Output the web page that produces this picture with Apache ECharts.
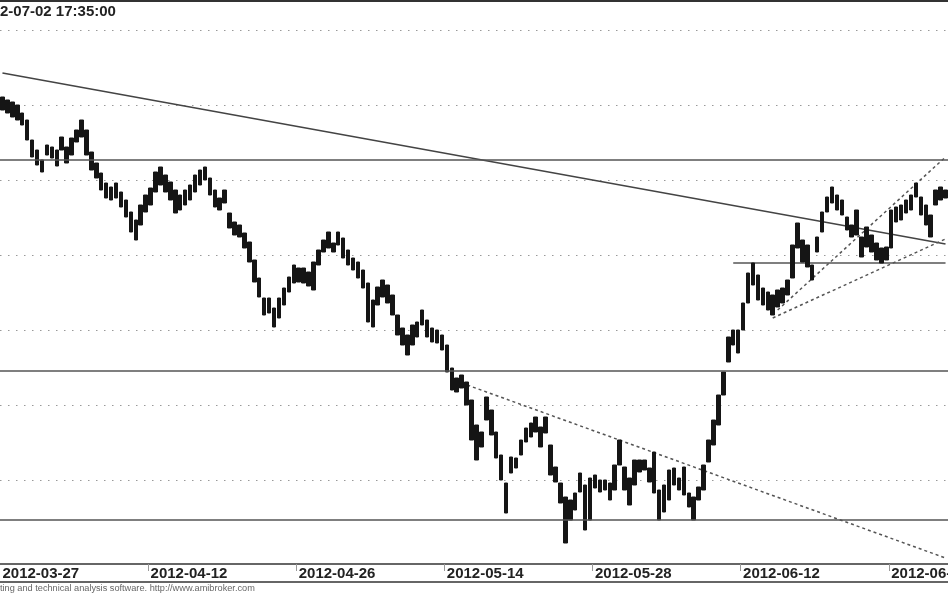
<!DOCTYPE html>
<html><head><meta charset="utf-8">
<script src="https://cdn.jsdelivr.net/npm/echarts@6/dist/echarts.min.js"></script>
<style>html,body{margin:0;padding:0;background:#fff}#c{width:948px;height:593px}</style>
</head><body><div id="c"></div>
<script>
// Trading days (Warsaw session), three bars per day
const tradingDays = ['2012-03-27','2012-03-28','2012-03-29','2012-03-30',
 '2012-04-02','2012-04-03','2012-04-04','2012-04-05','2012-04-10','2012-04-11',
 '2012-04-12','2012-04-13','2012-04-16','2012-04-17','2012-04-18','2012-04-19','2012-04-20','2012-04-23','2012-04-24','2012-04-25',
 '2012-04-26','2012-04-27','2012-04-30','2012-05-02','2012-05-04','2012-05-07','2012-05-08','2012-05-09','2012-05-10','2012-05-11',
 '2012-05-14','2012-05-15','2012-05-16','2012-05-17','2012-05-18','2012-05-21','2012-05-22','2012-05-23','2012-05-24','2012-05-25',
 '2012-05-28','2012-05-29','2012-05-30','2012-05-31','2012-06-01','2012-06-04','2012-06-05','2012-06-06','2012-06-08','2012-06-11',
 '2012-06-12','2012-06-13','2012-06-14','2012-06-15','2012-06-18','2012-06-19','2012-06-20','2012-06-21','2012-06-22','2012-06-25',
 '2012-06-26','2012-06-27','2012-06-28','2012-06-29'];
const sessionSlots = ['09:00','12:00','15:00'];

const barHighs = [2333,2330,2328,2325,2317,2310,2290,2280,2270,2285,
 2283,2280,2293,2283,2292,2300,2310,2300,2278,2267,
 2257,2247,2243,2247,2238,2230,2218,2210,2225,2235,
 2242,2258,2263,2255,2248,2240,2235,2240,2245,2255,
 2260,2263,2252,2240,2232,2240,2217,2208,2205,2197,
 2188,2170,2152,2132,2132,2122,2132,2142,2153,2165,
 2162,2162,2158,2168,2180,2190,2198,2187,2198,2192,
 2180,2172,2168,2160,2147,2130,2143,2150,2145,2135,
 2115,2102,2095,2105,2108,2120,2110,2102,2100,2095,
 2085,2062,2052,2055,2048,2030,2005,1998,2033,2020,
 1998,1975,1947,1973,1972,1990,2002,2007,2013,2003,
 2013,1985,1963,1947,1933,1930,1937,1957,1945,1952,
 1955,1950,1950,1947,1965,1990,1963,1952,1970,1970,
 1970,1962,1978,1940,1945,1960,1962,1952,1963,1937,
 1933,1943,1965,1990,2010,2035,2058,2093,2100,2100,
 2127,2157,2167,2155,2142,2138,2135,2140,2142,2150,
 2185,2207,2190,2185,2165,2193,2218,2233,2243,2235,
 2230,2213,2205,2220,2193,2203,2195,2187,2182,2183,
 2220,2223,2225,2230,2235,2247,2233,2225,2215,2240,
 2243,2240];
const barLows = [2320,2317,2313,2310,2305,2290,2273,2265,2258,2275,
 2272,2264,2280,2267,2275,2288,2293,2275,2260,2252,
 2240,2232,2230,2232,2223,2213,2198,2190,2205,2218,
 2225,2238,2245,2238,2230,2217,2220,2225,2230,2238,
 2245,2250,2235,2223,2220,2227,2202,2195,2193,2182,
 2168,2148,2133,2115,2117,2103,2112,2125,2138,2147,
 2148,2147,2144,2140,2165,2178,2182,2178,2185,2172,
 2165,2160,2152,2142,2108,2103,2125,2133,2127,2115,
 2095,2085,2075,2085,2093,2105,2093,2088,2087,2080,
 2058,2040,2038,2042,2025,1990,1970,1983,2010,1995,
 1972,1950,1917,1957,1962,1975,1988,1993,1998,1983,
 1997,1955,1948,1927,1887,1910,1920,1938,1900,1910,
 1942,1938,1940,1930,1940,1965,1940,1925,1945,1958,
 1960,1948,1937,1910,1918,1930,1945,1940,1935,1923,
 1910,1930,1940,1968,1985,2005,2035,2068,2085,2077,
 2100,2127,2145,2130,2125,2120,2115,2123,2127,2135,
 2152,2182,2168,2163,2150,2178,2198,2218,2227,2220,
 2215,2200,2193,2195,2173,2183,2178,2170,2167,2170,
 2182,2208,2210,2217,2220,2233,2215,2205,2193,2225,
 2230,2232];

// Horizontal support / resistance levels
const levelLines = [2270, 2059, 1910];
const partialLevel = [[148, 2167], [191, 2167]];
// Trend lines: [bar index, price]
const trendMain = [[0, 2357], [191, 2186]];
const trendDown = [[93, 2047], [191, 1872]];
const trendUpSteep = [[157, 2120], [191, 2273]];
const trendUpFlat = [[156, 2112], [191, 2191]];

const categories = [];
tradingDays.forEach(d => sessionSlots.forEach(s => categories.push(d + ' ' + s)));
const ohlc = barLows.map((lo, i) => [lo, barHighs[i], lo, barHighs[i]]);

const chart = echarts.init(document.getElementById('c'), null, {renderer: 'canvas'});
const dashed = {color: '#555', width: 1.5, type: [3, 3]};
chart.setOption({
  animation: false,
  backgroundColor: '#fff',
  grid: {left: 0, right: 0, top: 3, bottom: 38, containLabel: false, outerBoundsMode: 'none'},
  xAxis: {
    type: 'category', data: categories, boundaryGap: true, offset: 9,
    axisLine: {show: true, lineStyle: {color: '#666', width: 2}},
    axisTick: {show: true, length: 7, lineStyle: {color: '#999'},
      interval: (i) => i > 0 && i % 30 === 0},
    axisLabel: {interval: (i) => i % 30 === 0, align: 'left', margin: 2,
      hideOverlap: false, showMaxLabel: true,
      formatter: (v) => v.slice(0, 10),
      fontFamily: 'Liberation Sans, Arial', fontWeight: 'bold', fontSize: 15, color: '#222'},
    splitLine: {show: false}
  },
  yAxis: {
    type: 'value', min: 1875, max: 2427, interval: 75, scale: true,
    axisLine: {show: false}, axisTick: {show: false}, axisLabel: {show: false},
    splitLine: {show: true, showMinLine: false, showMaxLine: false,
      lineStyle: {color: '#999', width: 1, type: [1.5, 6.5]}}
  },
  series: [
    {type: 'candlestick', data: ohlc, barWidth: 4,
     itemStyle: {color: '#151515', color0: '#151515', borderColor: '#151515', borderColor0: '#151515', borderWidth: 1},
     markLine: {silent: true, symbol: 'none', label: {show: false},
       lineStyle: {color: '#555', width: 1.5, type: 'solid'},
       data: levelLines.map(v => ({yAxis: v}))}},
    {type: 'line', data: partialLevel, symbol: 'none', lineStyle: {color: '#555', width: 1.5}, z: 1},
    {type: 'line', data: trendMain, symbol: 'none', lineStyle: {color: '#444', width: 1.5}, z: 1},
    {type: 'line', data: trendDown, symbol: 'none', clip: false, lineStyle: dashed, z: 1},
    {type: 'line', data: trendUpSteep, symbol: 'none', lineStyle: dashed, z: 1},
    {type: 'line', data: trendUpFlat, symbol: 'none', lineStyle: dashed, z: 1}
  ],
  graphic: [
    {type: 'rect', shape: {x: 0, y: 0, width: 948, height: 2}, style: {fill: '#333'}},
    {type: 'rect', shape: {x: 0, y: 581, width: 948, height: 2}, style: {fill: '#666'}},
    {type: 'text', x: 0, y: 4, style: {text: '2-07-02 17:35:00', fill: '#222',
      font: 'bold 15px "Liberation Sans", Arial', textVerticalAlign: 'top'}},
    {type: 'text', x: 0, y: 584, style: {text: 'ting and technical analysis software. http://www.amibroker.com',
      fill: '#666', font: '9.2px "Liberation Sans", Arial', textVerticalAlign: 'top'}}
  ]
});
</script></body></html>
